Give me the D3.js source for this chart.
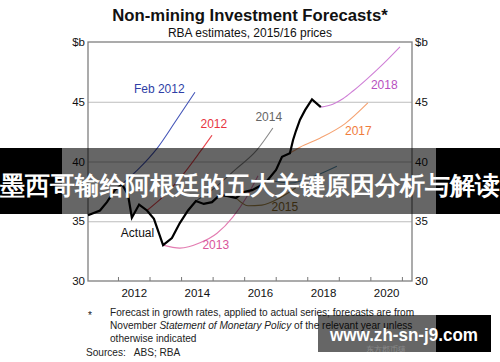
<!DOCTYPE html>
<html>
<head>
<meta charset="utf-8">
<script src="https://cdn.jsdelivr.net/npm/d3@7"></script>
<style>
  body { margin: 0; background: #fff; }
  text { font-family: "Liberation Sans", Arial, sans-serif; }
</style>
</head>
<body>
<div id="chart"></div>
<script>
// values: [year, $b]
var actual = [[2011.05, 35.5], [2011.43, 35.9], [2011.65, 36.6], [2011.9, 37.6], [2012.13, 38.1], [2012.32, 37.2],
  [2012.44, 35.3], [2012.67, 36.4], [2012.92, 35.9], [2013.14, 35.2], [2013.43, 33.0], [2013.71, 33.6],
  [2013.96, 34.85], [2014.22, 35.9], [2014.47, 36.7], [2014.72, 36.45], [2014.98, 36.6], [2015.23, 37.2],
  [2015.49, 37.1], [2015.74, 36.95], [2015.99, 37.45], [2016.25, 37.6], [2016.5, 37.95], [2016.75, 38.45],
  [2017.01, 39.3], [2017.2, 40.4], [2017.45, 40.7], [2017.55, 41.8], [2017.64, 42.55], [2017.77, 43.5],
  [2017.93, 44.3], [2018.15, 45.2], [2018.43, 44.55]];
var feb2012 = [[2012.13, 38.1], [2012.7, 39.5], [2013.24, 41.1], [2013.81, 43.3], [2014.44, 45.8]];
var f2012 = [[2012.92, 35.9], [2013.49, 37.2], [2014.06, 38.9], [2014.6, 40.8], [2014.98, 42.2]];
var f2013 = [[2013.43, 33.0], [2013.96, 32.75], [2014.6, 33.2], [2015.14, 34.0], [2015.64, 35.35], [2016.06, 36.95], [2016.44, 38.8]];
var f2014 = [[2014.47, 36.7], [2015.07, 37.8], [2015.71, 39.3], [2016.4, 40.95], [2016.91, 42.8]];
var f2015 = [[2015.74, 36.95], [2016.12, 36.3], [2016.56, 36.35], [2017.13, 36.95], [2017.64, 37.8]];
var f2016 = [[2016.75, 38.45], [2017.45, 38.2], [2018.3, 38.85], [2018.94, 39.6]];
var f2017 = [[2017.45, 40.7], [2017.77, 41.2], [2018.4, 41.95], [2019.19, 43.15], [2019.92, 44.9]];
var f2018 = [[2018.43, 44.55], [2018.81, 44.8], [2019.13, 45.25], [2019.45, 45.9], [2019.89, 46.9], [2020.4, 48.15], [2020.94, 49.6]];

var yTicks = [30, 35, 40, 45, 50];
var yearTicks = [2012, 2013, 2014, 2015, 2016, 2017, 2018, 2019, 2020, 2021];
var yearLabels = [2012, 2014, 2016, 2018, 2020];

var width = 500;
var height = 362;
var pLeft = 88, pRight = 412, pTop = 42, pBottom = 281;

var svg = d3.select("#chart").append("svg").attr("width", width).attr("height", height);
svg.append("rect").attr("width", width).attr("height", height).attr("fill", "#fff");

var x = d3.scaleLinear().domain([2011.05, 2021.32]).range([pLeft, pRight]);
var y = d3.scaleLinear().domain([30, 50]).range([pBottom, pTop]);

// title
svg.append("text").attr("x", 250).attr("y", 21).attr("text-anchor", "middle")
  .attr("font-size", 16.7).attr("font-weight", "bold").attr("fill", "#111")
  .text("Non-mining Investment Forecasts*");
svg.append("text").attr("x", 250).attr("y", 37).attr("text-anchor", "middle")
  .attr("font-size", 12).attr("fill", "#111")
  .text("RBA estimates, 2015/16 prices");

// grid lines
svg.append("g").attr("transform", "translate(" + pLeft + ",0)")
  .call(d3.axisLeft(y).tickValues([35, 40, 45]).tickSize(-(pRight - pLeft)).tickFormat(""))
  .call(function(g) {
    g.select(".domain").remove();
    g.selectAll("line").attr("stroke", "#bdbdbd").attr("stroke-width", 1);
  });

// y labels both sides
function yfmt(d) { return d === 50 ? "$b" : d; }
function styleText(g) {
  g.select(".domain").remove();
  g.selectAll("text").attr("font-size", 11.5).attr("fill", "#111").attr("font-family", "Liberation Sans, Arial, sans-serif");
}
svg.append("g").attr("transform", "translate(" + pLeft + ",0)")
  .call(d3.axisLeft(y).tickValues(yTicks).tickSize(0).tickPadding(3).tickFormat(yfmt))
  .call(styleText);
svg.append("g").attr("transform", "translate(" + pRight + ",0)")
  .call(d3.axisRight(y).tickValues(yTicks).tickSize(0).tickPadding(3).tickFormat(yfmt))
  .call(styleText);

// x ticks (inside) and labels centred on the year
svg.append("g").attr("transform", "translate(0," + pBottom + ")")
  .call(d3.axisBottom(x).tickValues(yearTicks).tickSizeInner(-4).tickSizeOuter(0).tickFormat(""))
  .call(function(g) {
    g.select(".domain").remove();
    g.selectAll("line").attr("stroke", "#777");
  });
svg.append("g").attr("transform", "translate(0," + pBottom + ")")
  .call(d3.axisBottom(x).tickValues(yearLabels.map(function(d) { return d + 0.5; })).tickSize(0).tickPadding(8)
    .tickFormat(function(d) { return Math.floor(d); }))
  .call(styleText);

// frame
svg.append("rect").attr("x", pLeft).attr("y", pTop).attr("width", pRight - pLeft).attr("height", pBottom - pTop)
  .attr("fill", "none").attr("stroke", "#7f7f7f").attr("stroke-width", 1.3);

var smooth = d3.line().x(function(d) { return x(d[0]); }).y(function(d) { return y(d[1]); }).curve(d3.curveMonotoneX);
var straight = d3.line().x(function(d) { return x(d[0]); }).y(function(d) { return y(d[1]); });

var forecasts = [
  { data: feb2012, color: "#4556b8" },
  { data: f2012, color: "#e8474f" },
  { data: f2013, color: "#e37cb1" },
  { data: f2014, color: "#8a8a8a" },
  { data: f2015, color: "#a88a4a" },
  { data: f2016, color: "#5b93b0" },
  { data: f2017, color: "#f5a271" },
  { data: f2018, color: "#cf7fd6" }
];

svg.selectAll(".fc").data(forecasts).enter().append("path")
  .attr("class", "fc")
  .attr("d", function(d) { return smooth(d.data); })
  .attr("fill", "none")
  .attr("stroke", function(d) { return d.color; })
  .attr("stroke-width", 1.1);

svg.append("path").attr("d", straight(actual)).attr("fill", "none")
  .attr("stroke", "#000").attr("stroke-width", 2.2).attr("stroke-linejoin", "miter");

// series labels
var labels = [
  { t: "Feb 2012", x: 2013.31, y: 46.07, c: "#2f3fa6" },
  { t: "2012", x: 2015.04, y: 43.14, c: "#e8353f" },
  { t: "2014", x: 2016.78, y: 43.72, c: "#666" },
  { t: "2018", x: 2020.44, y: 46.4, c: "#b84fc0" },
  { t: "2017", x: 2019.62, y: 42.55, c: "#f07c3c" },
  { t: "Actual", x: 2012.62, y: 34.02, c: "#111" },
  { t: "2013", x: 2015.1, y: 33.01, c: "#d9559b" },
  { t: "2015", x: 2017.29, y: 36.19, c: "#8a6a2a" }
];
svg.selectAll(".lab").data(labels).enter().append("text")
  .attr("class", "lab")
  .attr("x", function(d) { return x(d.x); })
  .attr("y", function(d) { return y(d.y); })
  .attr("text-anchor", "middle")
  .attr("dy", "0.35em")
  .attr("font-size", 12)
  .attr("fill", function(d) { return d.c; })
  .text(function(d) { return d.t; });

// footnote
var foot = svg.append("g").attr("font-size", 10.1).attr("fill", "#222");
foot.append("text").attr("x", 88).attr("y", 319).text("*");
foot.append("text").attr("x", 110).attr("y", 316).text("Forecast in growth rates, applied to actual series; forecasts are from");
var l2 = foot.append("text").attr("x", 110).attr("y", 329);
l2.append("tspan").text("November ");
l2.append("tspan").attr("font-style", "italic").text("Statement of Monetary Policy");
l2.append("tspan").text(" of the relevant year unless");
foot.append("text").attr("x", 110).attr("y", 342).text("otherwise indicated");
foot.append("text").attr("x", 86).attr("y", 356).attr("xml:space", "preserve").text("Sources:   ABS; RBA");

// banner overlay across the chart
var banner = svg.append("g");
banner.append("rect").attr("x", 0).attr("y", 148).attr("width", 62).attr("height", 66).attr("fill", "#000");
banner.append("rect").attr("x", 436).attr("y", 148).attr("width", 64).attr("height", 66).attr("fill", "#000");
banner.append("rect").attr("x", 62).attr("y", 148).attr("width", 374).attr("height", 66).attr("fill", "#000").attr("fill-opacity", 0.6);
banner.append("text").attr("x", 250).attr("y", 185).attr("dy", "0.35em").attr("text-anchor", "middle")
  .attr("font-family", "Noto Sans CJK SC, sans-serif").attr("font-weight", "bold").attr("font-size", 25)
  .attr("fill", "#fff")
  .text("墨西哥输给阿根廷的五大关键原因分析与解读");

// watermark bottom right
var mark = svg.append("g");
mark.append("rect").attr("x", 318).attr("y", 315).attr("width", 118).attr("height", 37).attr("fill", "#000").attr("fill-opacity", 0.6);
mark.append("rect").attr("x", 436).attr("y", 315).attr("width", 55).attr("height", 37).attr("fill", "#000");
mark.append("text").attr("x", 404).attr("y", 341).attr("text-anchor", "middle")
  .attr("font-family", "DejaVu Sans, sans-serif").attr("font-weight", "bold").attr("font-size", 18)
  .attr("fill", "#fff").attr("textLength", 148).attr("lengthAdjust", "spacingAndGlyphs")
  .text("www.zh-sn-j9.com");
mark.append("text").attr("x", 386).attr("y", 352).attr("text-anchor", "middle")
  .attr("font-family", "Noto Sans CJK SC, sans-serif").attr("font-size", 8)
  .attr("fill", "#fff").attr("fill-opacity", 0.25)
  .text("东方郡币猿");
</script>
</body>
</html>
